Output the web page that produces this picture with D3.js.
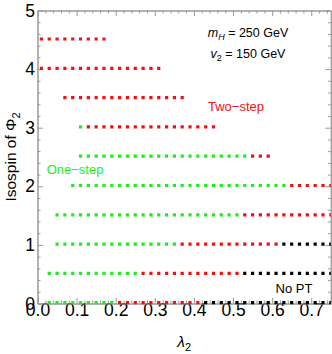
<!DOCTYPE html>
<html>
<head>
<meta charset="utf-8">
<script src="https://cdn.jsdelivr.net/npm/d3@7"></script>
<style>
  body { margin: 0; background: #fff; }
  text { font-family: "Liberation Sans", Arial, sans-serif; }
</style>
</head>
<body>
<div id="chart"></div>
<script>
// isospin of Phi_2 for each row, and the lambda_2 range [first, last] of each phase
const isospin = [0, 0.5, 1, 1.5, 2, 2.5, 3, 3.5, 4, 4.5];
const oneStep = [[0.03, 0.19], [0.03, 0.25], [0.05, 0.35], [0.05, 0.51], [0.09, 0.63],
                 [0.11, 0.53], [0.11, 0.11], null, null, null];
const twoStep = [[0.21, 0.41], [0.27, 0.51], [0.37, 0.61], [0.53, 0.75], [0.65, 0.75],
                 [0.55, 0.59], [0.13, 0.45], [0.07, 0.37], [0.01, 0.31], [0.01, 0.17]];
const noPT    = [[0.43, 0.75], [0.53, 0.75], [0.63, 0.75], null, null,
                 null, null, null, null, null];
const scanStep = 0.02;

const xTicks = [0, 0.1, 0.2, 0.3, 0.4, 0.5, 0.6, 0.7];
const yTicks = [0, 1, 2, 3, 4, 5];

const phases = [
    { name: "one", ranges: oneStep, color: "#1fec1f" },
    { name: "two", ranges: twoStep, color: "#f41010" },
    { name: "none", ranges: noPT, color: "#000" }
];

const width = 332, height = 354;
const margin = { top: 10.5, right: 1.2, bottom: 50.5, left: 37.5 };
const w = width - margin.left - margin.right;
const h = height - margin.top - margin.bottom;
const frameColor = "#9a9a9a";

const svg = d3.select("#chart")
    .append("svg")
    .attr("width", width)
    .attr("height", height);

const g = svg.append("g")
    .attr("transform", `translate(${margin.left},${margin.top})`);

const xScale = d3.scaleLinear().domain([0, 0.75]).range([0, w]);
const yScale = d3.scaleLinear().domain([0, 5]).range([h, 0]);

const minorX = d3.range(0, 0.7501, 0.02).filter(v => Math.abs(v * 10 - Math.round(v * 10)) > 1e-6);
const minorY = d3.range(0, 5.001, 0.2).filter(v => Math.abs(v - Math.round(v)) > 1e-6);

function styleAxis(sel) {
    sel.select(".domain").attr("stroke", frameColor);
    sel.selectAll(".tick line").attr("stroke", frameColor);
    sel.selectAll(".tick text").attr("fill", "#000").style("font-size", "17.5px")
        .style("font-family", "'Liberation Sans', Arial, sans-serif");
}

// bottom
g.append("g").attr("transform", `translate(0,${h})`)
    .call(d3.axisBottom(xScale).tickValues(xTicks).tickFormat(d3.format(".1f"))
        .tickSize(-5.5).tickSizeOuter(0).tickPadding(0))
    .call(styleAxis);
g.append("g").attr("transform", `translate(0,${h})`)
    .call(d3.axisBottom(xScale).tickValues(minorX).tickFormat("").tickSize(-3).tickSizeOuter(0))
    .call(styleAxis);
// left
g.append("g")
    .call(d3.axisLeft(yScale).tickValues(yTicks).tickFormat(d3.format("d"))
        .tickSize(-5.5).tickSizeOuter(0).tickPadding(2.5))
    .call(styleAxis);
g.append("g")
    .call(d3.axisLeft(yScale).tickValues(minorY).tickFormat("").tickSize(-3).tickSizeOuter(0))
    .call(styleAxis);
// top
g.append("g")
    .call(d3.axisTop(xScale).tickValues(xTicks).tickFormat("").tickSize(-5.5).tickSizeOuter(0))
    .call(styleAxis);
g.append("g")
    .call(d3.axisTop(xScale).tickValues(minorX).tickFormat("").tickSize(-3).tickSizeOuter(0))
    .call(styleAxis);
// right
g.append("g").attr("transform", `translate(${w},0)`)
    .call(d3.axisRight(yScale).tickValues(yTicks).tickFormat("").tickSize(-5.5).tickSizeOuter(0))
    .call(styleAxis);
g.append("g").attr("transform", `translate(${w},0)`)
    .call(d3.axisRight(yScale).tickValues(minorY).tickFormat("").tickSize(-3).tickSizeOuter(0))
    .call(styleAxis);

g.selectAll(".tick text").filter(function () { return this.textContent !== ""; });

// scan points drawn as dotted runs
svg.append("defs").append("clipPath").attr("id", "plotClip")
    .append("rect").attr("width", w).attr("height", h + 3).attr("y", 0);

const dot = 3.2;
const pitch = xScale(scanStep) - xScale(0);

const runs = [];
phases.forEach(p => {
    p.ranges.forEach((r, i) => {
        if (r) runs.push({ iso: isospin[i], from: r[0], to: r[1], color: p.color });
    });
});

g.append("g").attr("clip-path", "url(#plotClip)")
    .selectAll("line")
    .data(runs)
    .enter()
    .append("line")
    .attr("x1", d => xScale(d.from) - dot / 2)
    .attr("x2", d => xScale(d.to) + dot / 2)
    .attr("y1", d => yScale(d.iso) - 0.8)
    .attr("y2", d => yScale(d.iso) - 0.8)
    .attr("stroke", d => d.color)
    .attr("stroke-width", dot)
    .attr("stroke-dasharray", `${dot},${pitch - dot}`);

// axis titles
const yTitle = svg.append("text")
    .attr("transform", `translate(16,${margin.top + h / 2}) rotate(-90)`)
    .style("text-anchor", "middle")
    .style("font-size", "15.5px");
yTitle.append("tspan").text("Isospin of Φ");
yTitle.append("tspan").attr("dy", 4).style("font-size", "11px").text("2");

const xTitle = svg.append("text")
    .attr("x", margin.left + w / 2)
    .attr("y", 346.5)
    .style("text-anchor", "middle")
    .style("font-size", "15.5px");
xTitle.append("tspan").style("font-style", "italic").text("λ");
xTitle.append("tspan").attr("dy", 4).style("font-size", "11px").text("2");

// annotations
const mH = svg.append("text").attr("x", 248).attr("y", 37.3)
    .style("text-anchor", "middle").style("font-size", "12.5px");
mH.append("tspan").style("font-style", "italic").text("m");
mH.append("tspan").attr("dy", 3).style("font-size", "9px").style("font-style", "italic").text("H");
mH.append("tspan").attr("dy", -3).text(" = 250 GeV");

const v2 = svg.append("text").attr("x", 248).attr("y", 58)
    .style("text-anchor", "middle").style("font-size", "12.5px");
v2.append("tspan").style("font-style", "italic").text("v");
v2.append("tspan").attr("dy", 3).style("font-size", "9px").text("2");
v2.append("tspan").attr("dy", -3).text(" = 150 GeV");

svg.append("text").attr("x", 236).attr("y", 110.5)
    .style("text-anchor", "middle").style("font-size", "13px")
    .attr("fill", "#f41010").text("Two−step");

svg.append("text").attr("x", 75).attr("y", 174)
    .style("text-anchor", "middle").style("font-size", "13px")
    .attr("fill", "#1fec1f").text("One−step");

svg.append("text").attr("x", 294).attr("y", 292.7)
    .style("text-anchor", "middle").style("font-size", "13px")
    .attr("fill", "#000").text("No PT");
</script>
</body>
</html>
